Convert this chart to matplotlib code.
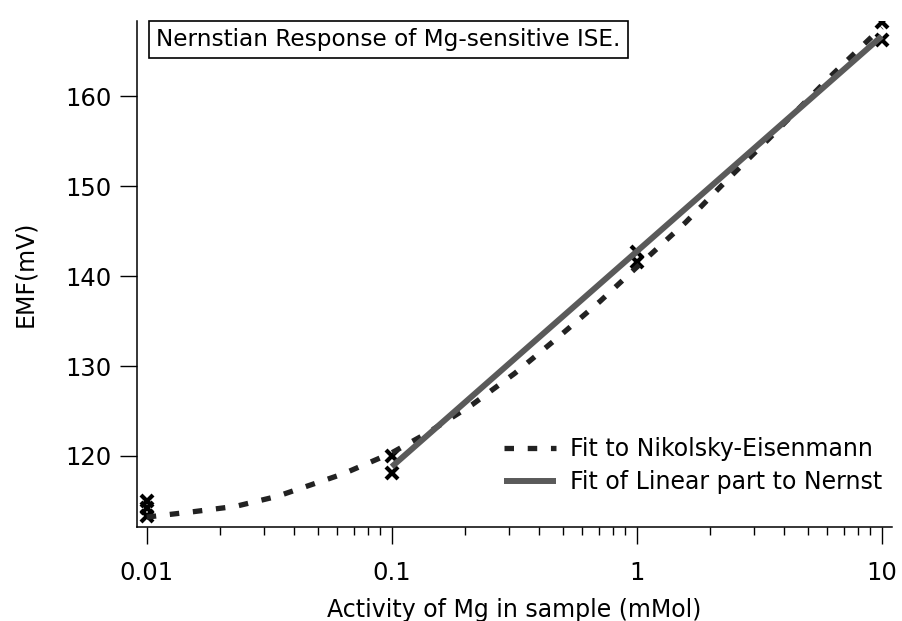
import matplotlib
matplotlib.use("Agg")
import matplotlib.pyplot as plt

# measured EMF (mV) at each Mg activity (mM)
meas_activity = [0.01, 0.01, 0.01, 0.1, 0.1, 1, 1, 10, 10]
meas_emf = [115.0, 114.2, 113.3, 120.0, 118.1, 142.7, 141.6, 168.3, 166.3]

# Nikolsky-Eisenmann fit
ne_activity = [0.01, 0.0155, 0.0231, 0.034, 0.0632, 0.0993, 0.1406, 0.2128,
               0.318, 0.473, 0.708, 1.0, 1.585, 2.355, 3.467, 6.27, 10]
ne_emf = [113.2, 113.8, 114.4, 115.5, 118.0, 120.3, 122.6, 125.7,
          129.2, 133.1, 137.2, 141.0, 146.0, 150.8, 155.3, 162.4, 167.7]

# linear (Nernst) part, end points
nernst_activity = [0.1, 10]
nernst_emf = [118.8, 166.7]

title = "Nernstian Response of Mg-sensitive ISE."

fig = plt.figure(figsize=(9.02, 6.21), dpi=100)
ax = fig.add_axes([0.1519, 0.1514, 0.837, 0.8148])

ax.plot(meas_activity, meas_emf, linestyle='none', marker='x', ms=9, mew=3,
        color='black', zorder=2)
ax.plot(ne_activity, ne_emf, color='#222222', lw=3.8,
        dashes=(1.8, 2.6), dash_capstyle='butt', zorder=3,
        label="Fit to Nikolsky-Eisenmann")
ax.plot(nernst_activity, nernst_emf, color='#5a5a5a', lw=4.3,
        solid_capstyle='butt', zorder=4, label="Fit of Linear part to Nernst")

ax.set_xscale('log')
ax.set_xlim(10 ** -2.0396, 10 ** 1.042)
ax.set_ylim(112.1, 168.4)
ax.set_xticks([0.01, 0.1, 1, 10])
ax.set_xticklabels(["0.01", "0.1", "1", "10"])
ax.set_yticks([120, 130, 140, 150, 160])

for s in ['top', 'right']:
    ax.spines[s].set_visible(False)
for s in ['left', 'bottom']:
    ax.spines[s].set_linewidth(1.1)

ax.tick_params(axis='both', which='major', direction='out', length=12.5,
               width=1, labelsize=17.5)
ax.tick_params(axis='x', which='major', pad=12)
ax.tick_params(axis='y', which='major', pad=6)
ax.tick_params(axis='x', which='minor', direction='out', length=6, width=1)
ax.tick_params(axis='y', which='minor', left=False)

ax.set_xlabel("Activity of Mg in sample (mMol)", fontsize=17, labelpad=9)
ax.set_ylabel("EMF(mV)", fontsize=17, labelpad=20)

ax.text(0.0255, 0.986, title, transform=ax.transAxes, fontsize=16.7,
        ha='left', va='top',
        bbox=dict(boxstyle='square,pad=0.3', facecolor='white',
                  edgecolor='black', linewidth=1.2))

ax.legend(loc='lower right', bbox_to_anchor=(1.006, 0.037), frameon=False,
          fontsize=17, handlelength=2.2, handletextpad=0.6, labelspacing=0.38,
          borderaxespad=0.2)

fig.savefig("out.png", dpi=100)
